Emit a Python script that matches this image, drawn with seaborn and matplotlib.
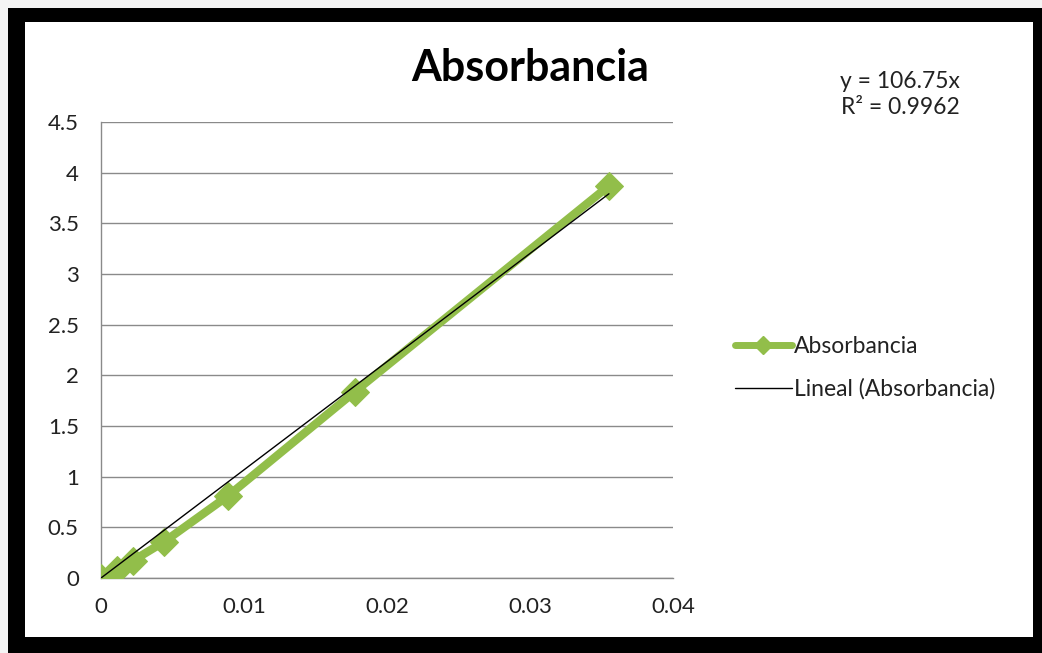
import matplotlib.pyplot as plt
import seaborn as sns
import pandas as pd
import numpy as np
from matplotlib.patches import Rectangle
from matplotlib.lines import Line2D

# datos
concentracion = [0.0, 0.00111, 0.00222, 0.00444, 0.00888, 0.01776, 0.03552]
absorbancia = [0.0, 0.08, 0.17, 0.36, 0.81, 1.84, 3.87]
pendiente = 106.75
r2 = 0.9962

x_ticks = [0, 0.01, 0.02, 0.03, 0.04]
x_labels = ['0', '0.01', '0.02', '0.03', '0.04']
y_ticks = [0, 0.5, 1, 1.5, 2, 2.5, 3, 3.5, 4, 4.5]
y_labels = ['0', '0.5', '1', '1.5', '2', '2.5', '3', '3.5', '4', '4.5']

df = pd.DataFrame({'x': concentracion, 'y': absorbancia})
tendencia = pd.DataFrame({'x': [min(concentracion), max(concentracion)]})
tendencia['y'] = pendiente * tendencia['x']

sns.set_theme(style="white")
plt.rcParams['font.family'] = ['Lato', 'DejaVu Sans']

W, H = 1042, 653
verde = '#92be4a'
fig = plt.figure(figsize=(W / 100, H / 100), dpi=100)
fig.patch.set_facecolor('#f4f4f4')

# marco negro tipo captura de pantalla
fig.patches.append(Rectangle((8 / W, 0), (W - 8) / W, 1 - 8 / H, transform=fig.transFigure,
                             facecolor='black', edgecolor='none', zorder=-2))
fig.patches.append(Rectangle((25 / W, 16 / H), (1033 - 25) / W, (H - 22 - 16) / H,
                             transform=fig.transFigure, facecolor='white',
                             edgecolor='none', zorder=-1))

ax = fig.add_axes([101 / W, 1 - 578 / H, (673 - 101) / W, (578 - 122) / H])
ax.set_facecolor('none')

sns.lineplot(data=df, x='x', y='y', ax=ax, color=verde, linewidth=6,
             marker='D', markersize=14, markeredgecolor=verde, zorder=3,
             legend=False)
sns.lineplot(data=tendencia, x='x', y='y', ax=ax, color='black', linewidth=1,
             zorder=4, legend=False)

ax.set_xlim(0, 0.04)
ax.set_ylim(0, 4.5)
ax.set_xticks(x_ticks, x_labels)
ax.set_yticks(y_ticks, y_labels)
ax.yaxis.grid(True, color='#8a8a8a', linewidth=1)
ax.xaxis.grid(False)
ax.set_axisbelow(True)
ax.set_xlabel('')
ax.set_ylabel('')
for s in ['top', 'right']:
    ax.spines[s].set_visible(False)
for s in ['left', 'bottom']:
    ax.spines[s].set_color('#8a8a8a')
    ax.spines[s].set_linewidth(1)
ax.tick_params(axis='both', which='both', length=8, width=1, color='#8a8a8a',
               labelsize=16, labelcolor='#222222', direction='out')
ax.tick_params(axis='y', pad=8)
ax.tick_params(axis='x', pad=9, length=5)

fig.text(530 / W, 1 - 68 / H, 'Absorbancia', ha='center', va='center',
         fontsize=31, fontweight='bold', color='black')
fig.text(900 / W, 1 - 81 / H, f'y = {pendiente}x', ha='center', va='center',
         fontsize=16.5, color='#222222')
fig.text(900 / W, 1 - 107 / H, f'R² = {r2}', ha='center', va='center',
         fontsize=16.5, color='#222222')

handles = [
    Line2D([], [], color=verde, linewidth=5, marker='D', markersize=9),
    Line2D([], [], color='black', linewidth=1),
]
fig.legend(handles, ['Absorbancia', 'Lineal (Absorbancia)'],
           loc='center left', bbox_to_anchor=(714 / W, 1 - 368 / H),
           frameon=False, fontsize=16.5, handlelength=2.5, handletextpad=0.1,
           labelspacing=0.9, labelcolor='#222222')

fig.savefig('out.png', dpi=100)
